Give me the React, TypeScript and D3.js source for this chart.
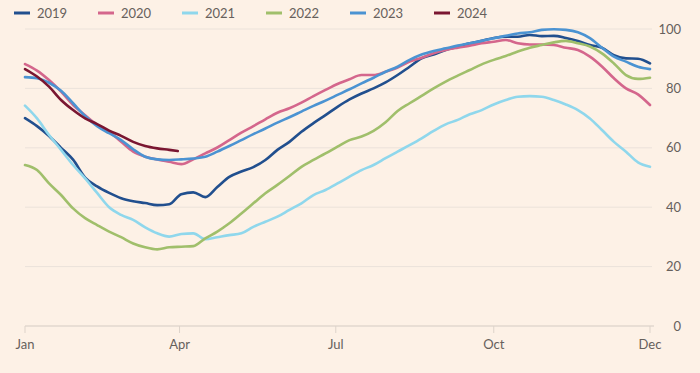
import { scaleLinear, line, curveMonotoneX } from "d3";

const width = 700;
const height = 373;
const margin = { top: 29, right: 50, bottom: 47, left: 25 };

const years = ["2019", "2020", "2021", "2022", "2023", "2024"];
const colors = ["#214f8e", "#d4668c", "#8fd7ec", "#a0bf6b", "#4b93d2", "#7a1631"];

// weekly readings, % full
const v2019 = [70, 67.3, 64, 60, 56, 50, 47, 44.8, 43, 42, 41.4, 40.7, 41, 44.4, 45, 43.4, 46.8, 50.2, 52, 53.5, 55.9, 59.3, 62, 65.4, 68.3, 71, 73.8, 76.3, 78.3, 80, 82, 84.5, 87.3, 90.1, 91.4, 92.9, 94, 95.2, 96, 97, 97.4, 97.4, 98, 97.6, 97.7, 97, 96, 94.6, 93.7, 91.2, 90.1, 90, 88.4];
const v2020 = [88.2, 86, 82.8, 78.9, 74.4, 71, 67.7, 65.4, 62, 58.7, 57, 56.1, 55.3, 54.5, 56.1, 58.1, 60.1, 62.6, 65.1, 67.3, 69.6, 71.8, 73.3, 75.2, 77.4, 79.5, 81.5, 83.1, 84.5, 84.5, 85.6, 87, 89, 90.3, 91.8, 92.9, 93.7, 94.4, 95.2, 95.7, 96.3, 95.2, 94.8, 94.8, 94.6, 93.7, 92.9, 90.7, 87.4, 83.4, 80, 78, 74.4];
const v2021 = [74.2, 69.9, 64.3, 59.3, 54.2, 49.7, 44.8, 40, 37.4, 35.7, 33.2, 31.2, 30.1, 31, 31.2, 29.2, 29.9, 30.6, 31.2, 33.4, 35.1, 36.8, 39.1, 41.3, 44.1, 45.8, 48, 50.3, 52.5, 54.2, 56.5, 58.7, 60.9, 63.2, 65.7, 67.9, 69.4, 71.3, 72.7, 74.6, 76.1, 77.2, 77.4, 77.2, 76.1, 74.6, 72.7, 69.9, 66, 62, 58.7, 55.1, 53.6];
const v2022 = [54.2, 52.5, 48, 44.1, 39.6, 36.3, 34, 31.8, 29.9, 27.8, 26.5, 25.8, 26.5, 26.7, 26.9, 29.5, 31.8, 34.6, 37.9, 41.3, 44.7, 47.5, 50.5, 53.6, 55.9, 58.1, 60.4, 62.6, 63.8, 65.7, 68.6, 72.4, 75, 77.5, 80, 82.3, 84.3, 86.2, 88.1, 89.6, 90.9, 92.4, 93.7, 94.6, 95.5, 96, 95.2, 94.1, 91.8, 88.4, 84.5, 83.2, 83.6];
const v2023 = [83.8, 83.4, 81.9, 79.2, 75, 70.7, 67.3, 64.9, 62.6, 59.5, 57, 56.1, 55.9, 56.1, 56.4, 57, 58.7, 60.6, 62.6, 64.6, 66.5, 68.5, 70.3, 72.2, 74.1, 75.9, 77.8, 79.7, 81.7, 83.6, 85.6, 87.3, 89.6, 91.4, 92.6, 93.5, 94.4, 95.2, 96, 96.9, 97.7, 98.5, 98.9, 99.7, 99.9, 99.7, 98.9, 96.9, 93.7, 90.7, 89, 87.3, 86.5];
const v2024 = [86.5, 84, 80.6, 76.1, 72.7, 69.9, 68, 65.8, 64, 62, 60.6, 59.8, 59.3, 58.9];
const days2024 = [0, 7, 14, 21, 28, 35, 42, 49, 56, 63, 70, 77, 84, 89];

const monthTicks = [0, 90, 181, 273, 364];
const monthLabels = ["Jan", "Apr", "Jul", "Oct", "Dec"];
const yTicks = [0, 20, 40, 60, 80, 100];

const series = [v2019, v2020, v2021, v2022, v2023, v2024];

const font = "Lato, 'Noto Sans', sans-serif";
const textColor = "#66605c";

export default function App() {
  const innerWidth = width - margin.left - margin.right;
  const innerHeight = height - margin.top - margin.bottom;

  const x = scaleLinear().domain([0, 364]).range([0, innerWidth]);
  const y = scaleLinear().domain([0, 100]).range([innerHeight, 0]);

  const lineGen = line<[number, number]>()
    .x((d) => x(d[0]))
    .y((d) => y(d[1]))
    .curve(curveMonotoneX);

  const pointsFor = (vals: number[], i: number): [number, number][] =>
    vals.map((v, j) => [i === 5 ? days2024[j] : j * 7, v]);

  return (
    <div style={{ position: "fixed", left: 0, top: 0 }}>
      <svg width={width} height={height} style={{ display: "block", background: "#fdf1e6" }}>
        {/* legend */}
        <g transform="translate(14,13)">
          {years.map((yr, i) => (
            <g key={yr} transform={`translate(${i * 84},0)`}>
              <line x1={0} x2={16} y1={0} y2={0} stroke={colors[i]} strokeWidth={3} />
              <text x={23} y={0} dy="0.35em" fontSize={13} fontFamily={font} fill={textColor}>
                {yr}
              </text>
            </g>
          ))}
        </g>

        <g transform={`translate(${margin.left},${margin.top})`}>
          {yTicks.map((t) => (
            <g key={t} transform={`translate(0,${y(t)})`}>
              {t > 0 && <line x1={0} x2={innerWidth + 2} stroke="#ebe2da" strokeWidth={1} />}
              <text
                x={innerWidth + 31}
                dy="0.35em"
                textAnchor="end"
                fontSize={13}
                fontFamily={font}
                fill={textColor}
              >
                {t}
              </text>
            </g>
          ))}
          <line x1={0} x2={innerWidth + 4} y1={innerHeight} y2={innerHeight} stroke="#d4cbc3" strokeWidth={1} />
          {monthTicks.map((t, i) => (
            <g key={t} transform={`translate(${x(t)},${innerHeight})`}>
              <line y1={0} y2={7} stroke="#ddd3ca" strokeWidth={1} />
              <text y={23} textAnchor="middle" fontSize={13} fontFamily={font} fill={textColor}>
                {monthLabels[i]}
              </text>
            </g>
          ))}

          {series.map((vals, i) => (
            <path
              key={years[i]}
              d={lineGen(pointsFor(vals, i)) || ""}
              fill="none"
              stroke={colors[i]}
              strokeWidth={2.6}
              strokeLinejoin="round"
              strokeLinecap="round"
            />
          ))}
        </g>
      </svg>
    </div>
  );
}
